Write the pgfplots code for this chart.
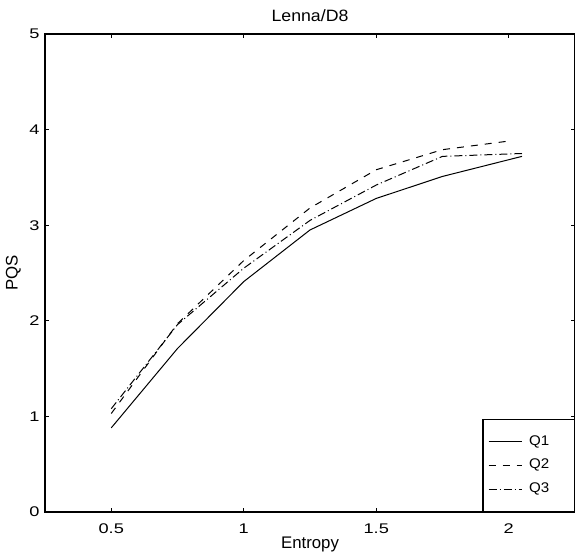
\documentclass[border=0pt]{standalone}
\usepackage{fontspec}
\setmainfont{Liberation Sans}
\newfontfamily\tickfont[FakeStretch=1.3]{Liberation Sans}
\newfontfamily\widefont[FakeStretch=1.08]{Liberation Sans}
\usepackage{pgfplots}
\pgfplotsset{compat=1.18}

\begin{document}
\begin{tikzpicture}
\begin{axis}[
    scale only axis,
    width=265pt, height=239pt,
    xmin=0.25, xmax=2.25,
    ymin=0, ymax=5,
    xtick={0.5,1,1.5,2},
    xticklabels={0.5,1,1.5,2},
    ytick={0,1,2,3,4,5},
    tick align=inside,
    major tick length=2.2pt,
    tick style={black, line width=0.5pt},
    axis line style={line width=0.6pt},
    /pgf/number format/assume math mode=true,
    tick label style={font=\tickfont\fontsize{7}{8}\selectfont},
    xticklabel style={yshift=-2.2pt},
    yticklabel style={xshift=0.8pt},
    title={Lenna/D8},
    title style={font=\widefont\fontsize{8.2}{9}\selectfont, at={(axis description cs:0.5,1)}, anchor=south, inner sep=0pt},
    xlabel={Entropy},
    xlabel style={font=\fontsize{8.4}{9}\selectfont, at={(axis description cs:0.5,-0.052)}, anchor=north, inner sep=0pt},
    ylabel={PQS},
    ylabel style={font=\fontsize{8.4}{9}\selectfont, at={(axis description cs:-0.045,0.5)}, anchor=south, inner sep=0pt},
    legend cell align=left,
    legend image code/.code={\draw[#1] (0pt,0pt) -- (16.5pt,0pt);},
    legend style={at={(rel axis cs:1,0)}, anchor=south east, draw=black, line width=0.6pt,
        font=\widefont\fontsize{7}{8}\selectfont, inner xsep=2.5pt, inner ysep=5.3pt,
        nodes={inner ysep=2.7pt, inner xsep=3.5pt}},
    every axis plot/.append style={black, line width=0.5pt},
]
\coordinate (SW) at (rel axis cs:0,0);
\coordinate (NE) at (rel axis cs:1,1);
\addplot[solid, mark=none] coordinates {(0.5,0.88)(0.75,1.71)(1,2.41)(1.25,2.95)(1.5,3.28)(1.75,3.51)(2.05,3.72)};
\addlegendentry{Q1\rule{6.6pt}{0pt}}
\addplot[mark=none, dash pattern=on 3.5pt off 3.5pt] coordinates {(0.5,1.03)(0.75,1.97)(1,2.63)(1.25,3.18)(1.5,3.58)(1.75,3.79)(2.0,3.88)};
\addlegendentry{Q2\rule{6.6pt}{0pt}}
\addplot[mark=none, dash pattern=on 4pt off 1.5pt on 0.5pt off 1.5pt] coordinates {(0.5,1.08)(0.75,1.96)(1,2.55)(1.25,3.05)(1.5,3.42)(1.75,3.72)(2.05,3.75)};
\addlegendentry{Q3\rule{6.6pt}{0pt}}
\end{axis}
\pgfresetboundingbox
\path ([shift={(-22.5pt,-22pt)}]SW) rectangle ([shift={(0pt,17pt)}]NE);
\end{tikzpicture}
\end{document}
